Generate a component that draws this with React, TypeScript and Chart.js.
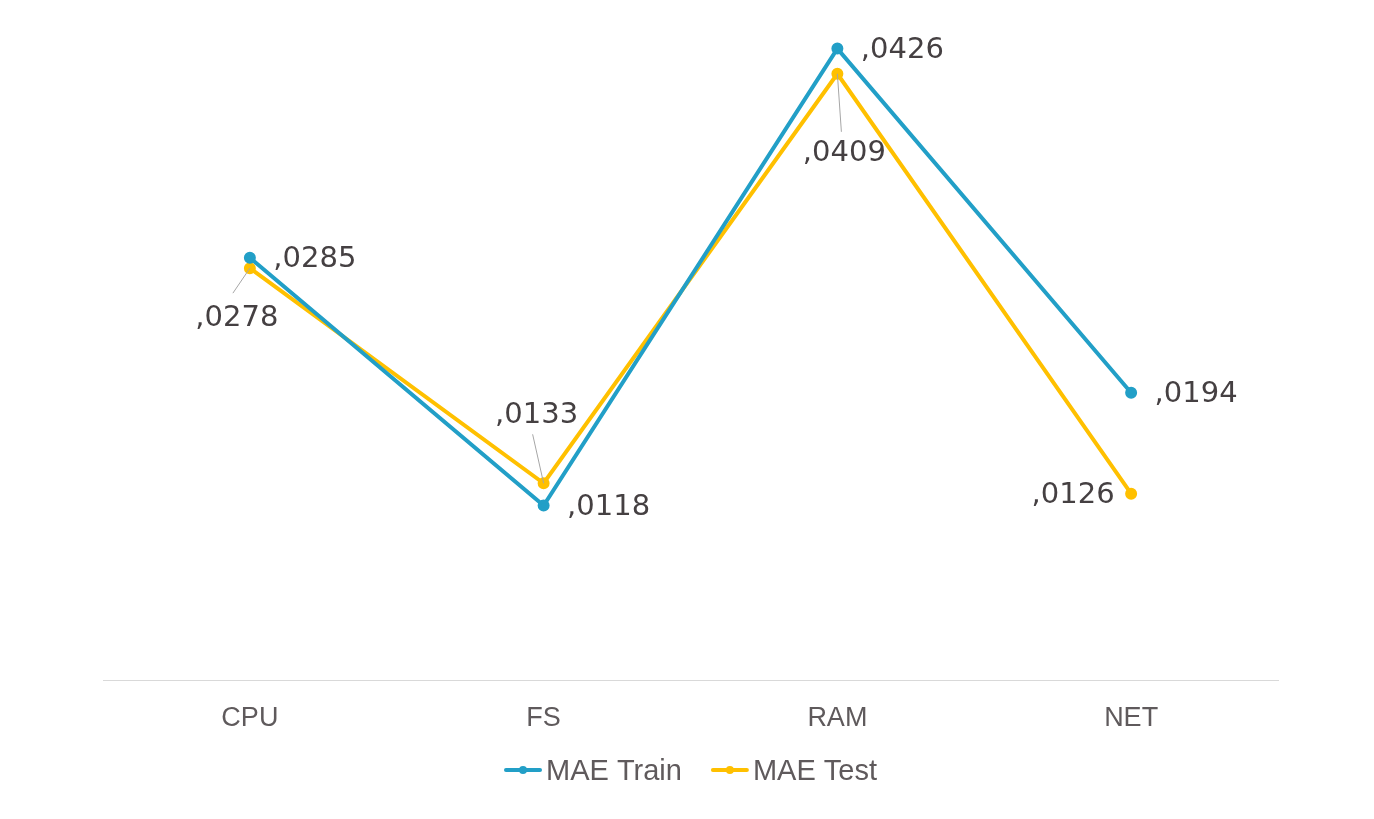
import React, { useEffect, useRef } from "react";
import { Chart, registerables } from "chart.js";

Chart.register(...registerables);

const categories = ["CPU", "FS", "RAM", "NET"];
const maeTrain = [0.0285, 0.0118, 0.0426, 0.0194];
const maeTest = [0.0278, 0.0133, 0.0409, 0.0126];
const seriesNames = ["MAE Train", "MAE Test"];
const seriesColors = ["#229FC7", "#FFC000"];

// label placement relative to each point: [dx, dy, leaderDx, leaderDy] (leader optional)
const trainLabelPlacement = [
  [65, 2],
  [65, 2],
  [65, 2],
  [65, 2],
];
const testLabelPlacement = [
  [-13, 50, -17, 25],
  [-7, -68, -11, -49],
  [7, 80, 4, 58],
  [-58, 2],
];

const fmt = (v: number) => v.toFixed(4).replace(/^0\./, ",");
const LABEL_FONT = "29px 'DejaVu Sans', sans-serif";
const LEGEND_FONT = "29px 'Liberation Sans', Arial, sans-serif";

const labelPlugin = {
  id: "valueLabels",
  afterDatasetsDraw(chart: any) {
    const ctx = chart.ctx;
    const placements = [trainLabelPlacement, testLabelPlacement];
    ctx.save();
    chart.data.datasets.forEach((ds: any, di: number) => {
      const meta = chart.getDatasetMeta(di);
      meta.data.forEach((pt: any, i: number) => {
        const p = placements[di][i];
        if (p.length > 2) {
          ctx.strokeStyle = "#A6A6A6";
          ctx.lineWidth = 1;
          ctx.beginPath();
          ctx.moveTo(pt.x, pt.y);
          ctx.lineTo(pt.x + p[2], pt.y + p[3]);
          ctx.stroke();
        }
        ctx.fillStyle = "#454042";
        ctx.font = LABEL_FONT;
        ctx.textAlign = "center";
        ctx.textBaseline = "middle";
        ctx.fillText(fmt(ds.data[i]), pt.x + p[0], pt.y + p[1]);
      });
    });
    ctx.restore();
  },
};

const legendPlugin = {
  id: "customLegend",
  afterDraw(chart: any) {
    const ctx = chart.ctx;
    const area = chart.chartArea;
    const cy = 770;
    const iconW = 38;
    const iconGap = 4;
    const itemGap = 29;
    ctx.save();
    ctx.font = LEGEND_FONT;
    const widths = chart.data.datasets.map((ds: any) => ctx.measureText(ds.label).width);
    const total =
      widths.reduce((a: number, w: number) => a + iconW + iconGap + w, 0) +
      itemGap * (widths.length - 1);
    let x = (area.left + area.right) / 2 - total / 2;
    chart.data.datasets.forEach((ds: any, i: number) => {
      const color = ds.borderColor;
      ctx.strokeStyle = color;
      ctx.lineWidth = 4;
      ctx.lineCap = "round";
      ctx.beginPath();
      ctx.moveTo(x + 2, cy);
      ctx.lineTo(x + iconW - 2, cy);
      ctx.stroke();
      ctx.fillStyle = color;
      ctx.beginPath();
      ctx.arc(x + iconW / 2, cy, 4, 0, Math.PI * 2);
      ctx.fill();
      ctx.fillStyle = "#5F5A5C";
      ctx.textAlign = "left";
      ctx.textBaseline = "middle";
      ctx.fillText(ds.label, x + iconW + iconGap, cy + 2);
      x += iconW + iconGap + widths[i] + itemGap;
    });
    ctx.restore();
  },
};

export default function App() {
  const ref = useRef<HTMLCanvasElement>(null);
  useEffect(() => {
    const chart = new Chart(ref.current!, {
      type: "line",
      data: {
        labels: categories,
        datasets: [maeTrain, maeTest].map((d, i) => ({
          label: seriesNames[i],
          data: d,
          borderColor: seriesColors[i],
          backgroundColor: seriesColors[i],
          borderWidth: 4,
          pointRadius: 4,
          pointHoverRadius: 4,
          tension: 0,
          fill: false,
        })),
      },
      options: {
        responsive: false,
        animation: false,
        layout: { padding: { left: 103, right: 96, top: 13, bottom: 62 } },
        scales: {
          x: {
            offset: true,
            grid: { display: false, drawTicks: false },
            border: { display: true, color: "#D9D9D9", width: 1 },
            ticks: {
              color: "#5F5A5C",
              font: { size: 27, family: "'Liberation Sans', Arial, sans-serif" },
              padding: 22,
            },
          },
          y: {
            display: false,
            min: 0,
            max: 0.045,
          },
        },
        plugins: {
          tooltip: { enabled: false },
          legend: { display: false },
        },
      },
      plugins: [labelPlugin, legendPlugin],
    });
    return () => chart.destroy();
  }, []);
  return (
    <div style={{ position: "fixed", left: 0, top: 0, width: 1374, height: 819, background: "#fff" }}>
      <canvas ref={ref} width={1374} height={819} style={{ display: "block" }} />
    </div>
  );
}
